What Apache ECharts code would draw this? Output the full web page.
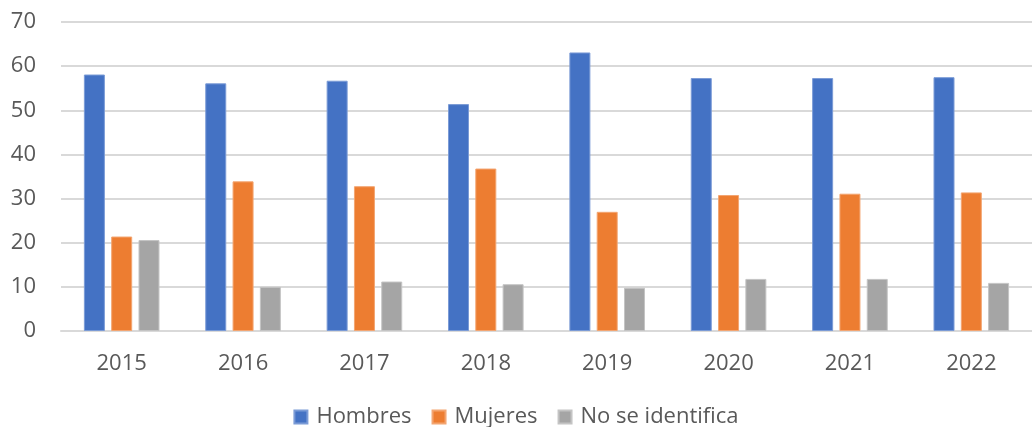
<!DOCTYPE html>
<html>
<head>
<meta charset="utf-8">
<script src="https://cdn.jsdelivr.net/npm/echarts@6/dist/echarts.min.js"></script>
<style>
  html, body { margin: 0; padding: 0; background: #fff; }
  #chart { width: 1032px; height: 427px; }
</style>
</head>
<body>
<div id="chart"></div>
<script>
'use strict';
// Datos
const years = ['2015', '2016', '2017', '2018', '2019', '2020', '2021', '2022'];
const hombres = [58.1, 56.1, 56.7, 51.4, 63.1, 57.3, 57.3, 57.5];
const mujeres = [21.4, 33.9, 32.8, 36.8, 27.0, 30.8, 31.1, 31.4];
const noIdentifica = [20.6, 10.0, 11.2, 10.6, 9.8, 11.8, 11.8, 10.9];
const yTicks = { min: 0, max: 70, step: 10 };

const FONT = '"Open Sans", "DejaVu Sans", sans-serif';
const LABEL = '#595959';
const GRID_LINE = '#d9d9d9';

const chart = echarts.init(document.getElementById('chart'), null, { renderer: 'canvas' });

function barSeries(name, data, color, border) {
  return {
    name, type: 'bar', data,
    barWidth: 21, barGap: '30%',
    itemStyle: { color, borderColor: border, borderWidth: 1 },
    emphasis: { disabled: true }
  };
}

chart.setOption({
  animation: false,
  backgroundColor: '#fff',
  textStyle: { fontFamily: FONT },
  grid: { left: 61, top: 22, width: 981, height: 309, containLabel: false },
  legend: {
    data: ['Hombres', 'Mujeres', 'No se identifica'],
    left: 'center', top: 401,
    icon: 'rect', itemWidth: 13, itemHeight: 13, itemGap: 20,
    textStyle: { color: LABEL, fontSize: 22, fontFamily: FONT, padding: [0, 0, 0, 4] }
  },
  xAxis: {
    type: 'category', data: years,
    axisLine: { show: true, lineStyle: { color: GRID_LINE, width: 2 } },
    axisTick: { show: false },
    axisLabel: { color: LABEL, fontSize: 22, fontFamily: FONT, margin: 22 }
  },
  yAxis: {
    type: 'value', min: yTicks.min, max: yTicks.max, interval: yTicks.step,
    axisLine: { show: false }, axisTick: { show: false },
    axisLabel: { color: LABEL, fontSize: 22, fontFamily: FONT, margin: 25 },
    splitLine: { lineStyle: { color: GRID_LINE, width: 2 } }
  },
  series: [
    barSeries('Hombres', hombres, '#4472c4', '#7b9bd6'),
    barSeries('Mujeres', mujeres, '#ed7d31', '#f3a571'),
    barSeries('No se identifica', noIdentifica, '#a5a5a5', '#c4c4c4')
  ]
});
</script>
</body>
</html>
